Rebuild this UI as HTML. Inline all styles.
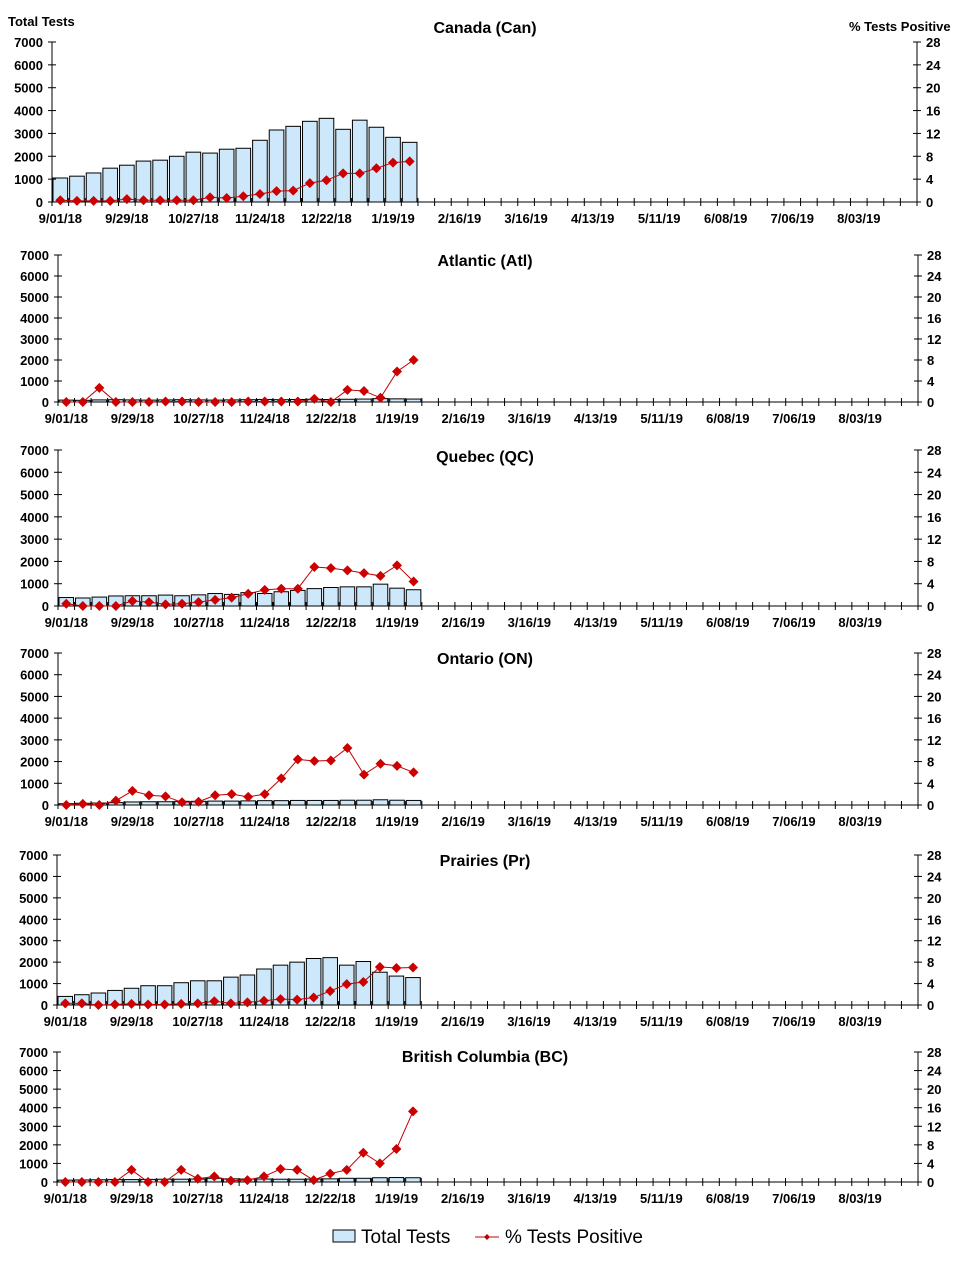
<!DOCTYPE html>
<html><head><meta charset="utf-8"><style>
body{margin:0;background:#fff;width:970px;height:1259px;overflow:hidden}
svg text{font-family:"Liberation Sans",Arial,sans-serif;font-weight:bold;font-size:13px;fill:#000}
</style></head><body>
<svg id="s" width="970" height="1259" xmlns="http://www.w3.org/2000/svg">
<text x="8" y="26" style="font-size:13px">Total Tests</text>
<text x="849" y="31" style="font-size:13px">% Tests Positive</text>
<rect x="333" y="1230" width="22" height="12" fill="#cce8fa" stroke="#000"/>
<text x="361" y="1243" style="font-weight:normal;font-size:19px">Total Tests</text>
<line x1="475" y1="1237" x2="499" y2="1237" stroke="#c00000"/>
<path d="M487 1234 L490 1237 L487 1240 L484 1237Z" fill="#c00000"/>
<text x="505" y="1243" style="font-weight:normal;font-size:19px">% Tests Positive</text>
</svg>
<script>
const charts=[
{t:"Canada (Can)",L:52,R:917,T:42,B:202,ty:33,
 b:[1050,1130,1270,1480,1610,1790,1830,2000,2180,2140,2310,2350,2700,3150,3310,3530,3660,3180,3580,3270,2830,2610],
 p:[0.3,0.2,0.2,0.2,0.5,0.3,0.3,0.3,0.3,0.8,0.7,1.0,1.4,1.9,2.0,3.3,3.8,5.0,5.0,5.9,6.9,7.1]},
{t:"Atlantic (Atl)",L:58,R:918,T:255,B:402,ty:266,
 b:[90,80,100,110,100,90,100,110,100,90,100,110,120,110,120,130,120,130,140,160,150,140],
 p:[0,0,2.7,0,0,0,0.1,0.1,0,0,0,0.1,0.1,0.1,0.1,0.6,0,2.3,2.1,0.8,5.8,8.0]},
{t:"Quebec (QC)",L:58,R:918,T:450,B:606,ty:462,
 b:[380,360,400,450,460,460,490,460,500,560,520,600,560,640,700,780,830,860,860,980,800,730],
 p:[0.4,0,0,0,0.9,0.7,0.3,0.4,0.7,1.1,1.5,2.2,2.9,3.1,3.1,7.0,6.8,6.4,5.9,5.4,7.3,4.4]},
{t:"Ontario (ON)",L:58,R:918,T:653,B:805,ty:664,
 b:[60,80,90,110,140,150,150,170,170,180,180,190,200,200,210,210,210,220,220,240,220,210],
 p:[0,0.2,0,0.8,2.6,1.8,1.6,0.5,0.6,1.8,2.0,1.5,2.0,4.9,8.4,8.1,8.2,10.5,5.6,7.6,7.2,6.0]},
{t:"Prairies (Pr)",L:57,R:918,T:855,B:1005,ty:866,
 b:[400,480,560,680,780,900,900,1040,1130,1130,1300,1400,1680,1860,2000,2170,2210,1860,2030,1530,1350,1280],
 p:[0.3,0.3,0,0.1,0.2,0.1,0.1,0.2,0.3,0.7,0.3,0.5,0.8,1.1,1.0,1.4,2.6,3.9,4.3,7.1,6.9,7.0]},
{t:"British Columbia (BC)",L:57,R:918,T:1052,B:1182,ty:1062,
 b:[100,110,120,130,130,140,150,150,160,200,170,160,160,150,150,160,170,200,200,230,240,230,190],
 p:[0,0,0,0,2.6,0,0,2.6,0.7,1.2,0.3,0.4,1.2,2.8,2.6,0.4,1.8,2.6,6.3,4.0,7.1,15.2]}
];
const dates=["9/01/18","9/29/18","10/27/18","11/24/18","12/22/18","1/19/19","2/16/19","3/16/19","4/13/19","5/11/19","6/08/19","7/06/19","8/03/19"];
let h="";
for(const c of charts){
 const w=(c.R-c.L)/52, H=c.B-c.T;
 h+=`<text x="485" y="${c.ty}" text-anchor="middle" style="font-size:16px">${c.t}</text>`;
 c.b.slice(0,22).forEach((v,i)=>{const bh=v/7000*H;h+=`<rect x="${c.L+i*w+1}" y="${c.B-bh}" width="${w-2}" height="${bh}" fill="#cce8fa" stroke="#000"/>`;});
 h+=`<line x1="${c.L}" y1="${c.T}" x2="${c.L}" y2="${c.B}" stroke="#000"/><line x1="${c.R}" y1="${c.T}" x2="${c.R}" y2="${c.B}" stroke="#000"/><line x1="${c.L}" y1="${c.B}" x2="${c.R}" y2="${c.B}" stroke="#000"/>`;
 for(let k=0;k<=7;k++){const y=c.B-k/7*H;
  h+=`<line x1="${c.L-4}" y1="${y}" x2="${c.L+4}" y2="${y}" stroke="#000"/><text x="${c.L-9}" y="${y+5}" text-anchor="end">${k*1000}</text>`;
  h+=`<line x1="${c.R-4}" y1="${y}" x2="${c.R+4}" y2="${y}" stroke="#000"/><text x="${c.R+9}" y="${y+5}">${k*4}</text>`;}
 for(let i=0;i<=52;i++){const x=c.L+i*w;h+=`<line x1="${x}" y1="${c.B-4}" x2="${x}" y2="${c.B+4}" stroke="#000"/>`;}
 dates.forEach((d,j)=>{h+=`<text x="${c.L+(j*4+0.5)*w}" y="${c.B+21}" text-anchor="middle">${d}</text>`;});
 const pts=c.p.map((v,i)=>[c.L+(i+0.5)*w,c.B-v/28*H]);
 h+=`<polyline points="${pts.map(p=>p.join(',')).join(' ')}" fill="none" stroke="#c00000" stroke-width="1"/>`;
 pts.forEach(([x,y])=>{h+=`<path d="M${x} ${y-5}L${x+5} ${y}L${x} ${y+5}L${x-5} ${y}Z" fill="#cc0000"/>`;});
}
document.getElementById("s").insertAdjacentHTML("beforeend",h);
</script>
</body></html>
